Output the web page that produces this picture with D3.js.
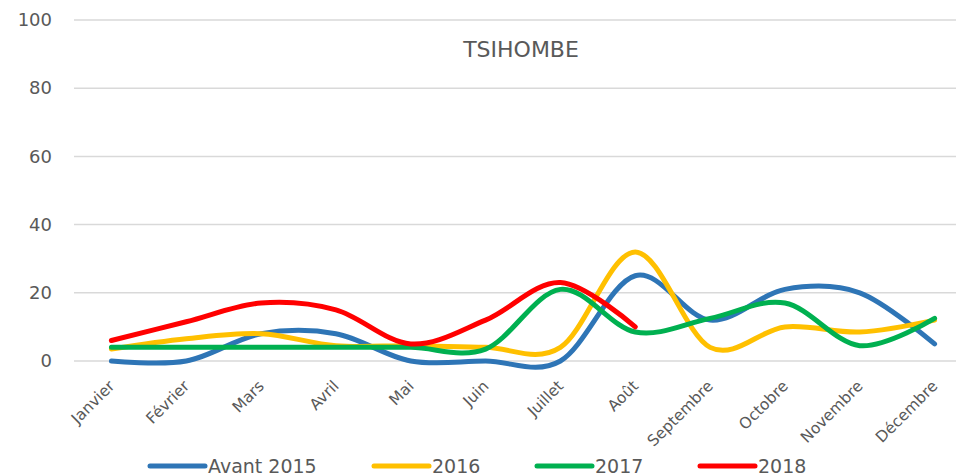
<!DOCTYPE html>
<html>
<head>
<meta charset="utf-8">
<script src="https://cdn.jsdelivr.net/npm/d3@7/dist/d3.min.js"></script>
<style>
  html, body { margin: 0; padding: 0; background: #fff; }
  svg { display: block; font-family: "DejaVu Sans", sans-serif; }
</style>
</head>
<body>
<div id="chart"></div>
<script>
// ===== TSIHOMBE LINE CHART =====

const months = ['Janvier', 'Février', 'Mars', 'Avril', 'Mai', 'Juin',
  'Juillet', 'Août', 'Septembre', 'Octobre', 'Novembre', 'Décembre'];

const yTicks = [0, 20, 40, 60, 80, 100];

const avant2015 = [0, 0, 8, 8, 0, 0, 0, 25, 12, 21, 20, 5];
const y2016 = [3.5, 6.5, 8, 4.5, 4.5, 4, 4, 32, 4, 10, 8.5, 12];
const y2017 = [4, 4, 4, 4, 4, 3.5, 21, 8.5, 12.5, 17, 4.5, 12.5];
const y2018 = [6, 11.5, 17, 15, 5, 12, 23, 10];

const seriesNames = ['Avant 2015', '2016', '2017', '2018'];
const seriesColors = ['#2E75B6', '#FFC000', '#00B050', '#FF0000'];

const width = 956;
const height = 476;

// plot area runs slightly past the right edge, as in the original
const plot = { left: 74, right: 972, top: 20, bottom: 361 };

const svg = d3.select('#chart')
  .append('svg')
  .attr('width', width)
  .attr('height', height);

const x = d3.scaleBand()
  .domain(months)
  .range([plot.left, plot.right]);

const y = d3.scaleLinear()
  .domain([0, 100])
  .range([plot.bottom, plot.top]);

const cx = m => x(m) + x.bandwidth() / 2;

// gridlines
svg.append('g')
  .selectAll('line')
  .data(yTicks)
  .join('line')
  .attr('x1', plot.left)
  .attr('x2', plot.right)
  .attr('y1', d => y(d))
  .attr('y2', d => y(d))
  .attr('stroke', '#d9d9d9')
  .attr('stroke-width', 1.5);

// y axis labels
const yAxis = svg.append('g')
  .attr('transform', `translate(${plot.left - 22},0)`)
  .call(d3.axisLeft(y).tickValues(yTicks).tickSize(0).tickPadding(0));
yAxis.select('.domain').remove();
yAxis.selectAll('text')
  .attr('fill', '#595959')
  .style('font-size', '18px')
  .style('font-family', '"DejaVu Sans", sans-serif');

// x axis labels (rotated)
svg.append('g')
  .selectAll('text')
  .data(months)
  .join('text')
  .attr('transform', d => `translate(${cx(d) + 4},${plot.bottom + 26}) rotate(-45)`)
  .attr('text-anchor', 'end')
  .attr('fill', '#595959')
  .style('font-size', '15.5px')
  .text(d => d);

// title
svg.append('text')
  .attr('x', 521)
  .attr('y', 57)
  .attr('text-anchor', 'middle')
  .attr('fill', '#595959')
  .style('font-size', '22px')
  .text('TSIHOMBE');

// lines
const line = d3.line()
  .x((d, i) => cx(months[i]))
  .y(d => y(d))
  .curve(d3.curveCardinal.tension(0));

const allSeries = [avant2015, y2016, y2017, y2018];

svg.append('g')
  .selectAll('path')
  .data(allSeries)
  .join('path')
  .attr('d', d => line(d))
  .attr('fill', 'none')
  .attr('stroke', (d, i) => seriesColors[i])
  .attr('stroke-width', 5)
  .attr('stroke-linecap', 'round')
  .attr('stroke-linejoin', 'round');

// legend
const legendX = [150, 374, 537, 700];
const legend = svg.append('g')
  .selectAll('g')
  .data(seriesNames)
  .join('g')
  .attr('transform', (d, i) => `translate(${legendX[i]},466)`);

legend.append('line')
  .attr('x1', 0)
  .attr('x2', 55)
  .attr('stroke', (d, i) => seriesColors[i])
  .attr('stroke-width', 5)
  .attr('stroke-linecap', 'round');

legend.append('text')
  .attr('x', 58)
  .attr('y', 7)
  .attr('fill', '#595959')
  .style('font-size', '19px')
  .text(d => d);
</script>
</body>
</html>
